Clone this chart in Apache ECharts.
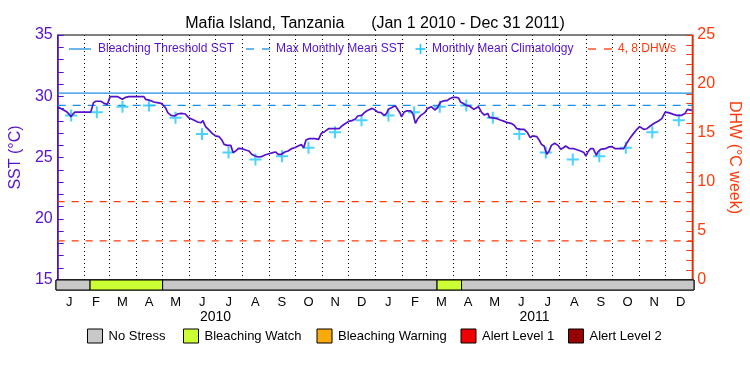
<!DOCTYPE html>
<html><head><meta charset="utf-8">
<script src="https://cdn.jsdelivr.net/npm/echarts@6/dist/echarts.min.js"></script>
<style>html,body{margin:0;padding:0;background:#fff}#c{width:750px;height:375px}</style>
</head><body><div id="c"></div>
<script>
// ---------- data ----------
const titleText = 'Mafia Island, Tanzania      (Jan 1 2010 - Dec 31 2011)';
const monthLetters = ['J','F','M','A','M','J','J','A','S','O','N','D'];
const yearLabels = ['2010','2011'];
const leftTicks = [15, 20, 25, 30, 35];
const rightTicks = [0, 5, 10, 15, 20, 25];

// daily SST trace, read at break points: day offset from 1 Jan 2010 and value (°C)
const sstDay = [0,3.8,6.9,10.7,13.3,15.3,17.2,19.8,38.1,41.2,43.9,49.6,53.4,57.2,60.3,68.6,70.6,74.4,78.2,82.0,99.2,101.1,104.9,110.6,114.4,119.0,121.3,124,126.6,130.4,134.2,138.1,141.9,146.8,150.6,156.4,160.9,164.8,167,170.1,173.9,177.7,181.5,185.7,188.8,
191.4,195.2,199.1,201.7,204.8,207.8,211.6,216.2,220.0,223.1,226.9,230.7,234.5,238.3,242.9,247.5,250.6,253.6,257.4,261.2,265.0,268.9,272.7,276.5,280.3,283.0,285.6,289.5,295.6,300.1,303.2,307.0,311.6,323.8,326.8,331.4,334.5,338.3,342.1,345.1,349.7,352.8,355.4,359.2,361.9,365.0,
368.1,371.9,375.7,378.3,380.3,383.3,386.0,388.6,390.9,393.6,395.5,398.6,401.2,406.2,408.9,411.5,413.8,417.6,422.2,425.3,429.8,433.7,436.7,440.5,445.1,448.1,450.8,454.6,458.4,461.1,463.4,466.1,469.9,473.7,475.6,478.7,481.3,484.0,486.3,487.8,490.9,494.7,496.6,499.2,501.5,505.4,509.2,513.7,517.6,521.4,525.2,528.2,532.8,536.6,540.4,543.5,546.2,
551.2,553.8,556.5,559.5,562.6,565.3,567.9,571.7,575.6,578.6,581.7,584.3,588.1,593.9,601.5,605.3,607.6,609.9,612.9,616.0,619.8,621.3,624.4,630.1,633.9,637.7,641.5,651.1,654.9,658.7,662.5,666.3,669.4,674.0,677.8,681.6,686.2,691.1,694.9,698.8,702.6,708.3,712.1,717.8,721.7,724.3,726.6,729.5];
const sstTemp = [29.15,28.99,28.88,28.71,28.52,28.33,28.52,28.71,28.71,29.48,29.59,29.59,29.42,29.34,29.97,29.97,29.86,29.75,29.91,29.97,29.97,29.75,29.69,29.53,29.48,29.42,29.34,29.07,28.66,28.44,28.39,28.55,28.60,28.55,28.25,28.06,27.90,27.84,28.01,27.52,27.25,26.97,26.76,26.70,26.43,
26.07,25.99,25.99,25.40,25.53,25.75,25.72,25.61,25.53,25.26,25.12,25.04,25.07,25.20,25.31,25.40,25.45,25.26,25.26,25.45,25.53,25.72,25.80,25.94,26.05,25.80,26.43,26.54,26.54,26.48,26.97,27.11,27.35,27.35,27.57,27.79,27.95,28.01,28.12,28.39,28.44,28.66,28.80,28.93,29.01,28.88,
28.71,28.66,28.44,28.60,28.93,29.04,29.15,29.20,29.15,28.66,28.33,28.71,28.80,28.80,28.52,27.79,28.12,28.44,28.66,28.99,29.15,28.88,29.04,29.53,29.64,29.64,29.80,29.91,29.91,29.86,29.53,29.42,29.26,29.20,29.15,28.93,29.04,29.15,29.20,28.66,28.47,28.60,28.28,28.25,28.12,28.17,28.06,27.95,27.84,27.79,27.63,27.35,27.30,27.30,27.03,26.62,26.76,
26.70,26.43,26.07,25.94,25.26,25.53,25.99,26.16,25.99,25.67,25.80,25.94,25.75,25.72,25.53,25.40,25.12,25.45,25.72,25.72,25.18,25.45,25.67,25.72,25.86,25.88,25.72,25.72,26.21,26.62,26.97,27.30,27.52,27.30,27.35,27.57,27.79,27.98,28.17,28.71,28.66,28.52,28.44,28.44,28.60,28.93,29.07,28.85];

// monthly mean climatology (Jan..Dec), °C
const climMonthTemp = [28.42, 28.69, 29.15, 29.25, 28.25, 26.92, 25.40, 24.83, 25.10, 25.80, 27.06, 28.04];
const bleachingThreshold = 30.26;
const maxMonthlyMean = 29.26;
const dhwLevels = [4, 8];

// stress status bar
const statusStart = ['2010-01-01','2010-02-09','2010-05-03','2011-03-13','2011-04-10'];
const statusEnd   = ['2010-02-09','2010-05-03','2011-03-13','2011-04-10','2012-01-01'];
const statusLevel = [0, 1, 0, 1, 0];
const statusNames = ['No Stress','Bleaching Watch','Bleaching Warning','Alert Level 1','Alert Level 2'];

// ---------- styling ----------
const statusColors = ['#c8c8c8','#ccff33','#faaa0a','#f00000','#960000'];
const PURPLE = '#5512cc';
const BLUE = '#1c8fe6';
const CYAN = '#1ec8ff';
const RED = '#ff3a0a';
const DAY = 86400000;
const T0 = Date.UTC(2010,0,1), T1 = Date.UTC(2012,0,1);
const parseD = s => { const p = s.split('-').map(Number); return Date.UTC(p[0], p[1]-1, p[2]); };

const sstData = sstDay.map((d,i) => [T0 + d*DAY, sstTemp[i]]);
const climData = [];
const monthStarts = [];
for (let y = 2010; y <= 2011; y++) {
  for (let m = 0; m < 12; m++) {
    const a = Date.UTC(y, m, 1), b = Date.UTC(y, m+1, 1);
    climData.push([(a+b)/2, climMonthTemp[m]]);
    if (!(y === 2010 && m === 0)) monthStarts.push(a);
  }
}
const monthAxisLabels = yearLabels.flatMap(() => monthLetters);
const statusData = statusStart.map((s,i) => [parseD(s), parseD(statusEnd[i]), statusLevel[i]]);

const FONT = 'Liberation Sans';
const plusPath = 'path://M5,0L7,0L7,5L12,5L12,7L7,7L7,12L5,12L5,7L0,7L0,5L5,5Z';

// legends as graphic elements
const LY = 49;
const txt = (x, y, s, color, size) => ({type:'text', x:x, y:y, silent:true,
  style:{text:s, fill:color, fontSize:size, fontFamily:FONT, verticalAlign:'middle', align:'left'}});
const topLegend = [
  {type:'line', silent:true, shape:{x1:69,y1:LY,x2:91,y2:LY}, style:{stroke:BLUE,lineWidth:1.3}},
  txt(98, LY, 'Bleaching Threshold SST', PURPLE, 12),
  {type:'line', silent:true, shape:{x1:246,y1:LY,x2:254,y2:LY}, style:{stroke:BLUE,lineWidth:1.3}},
  {type:'line', silent:true, shape:{x1:262,y1:LY,x2:270,y2:LY}, style:{stroke:BLUE,lineWidth:1.3}},
  txt(276, LY, 'Max Monthly Mean SST', PURPLE, 12),
  {type:'line', silent:true, shape:{x1:415.5,y1:LY,x2:425.5,y2:LY}, style:{stroke:CYAN,lineWidth:1.6}},
  {type:'line', silent:true, shape:{x1:420.5,y1:LY-5,x2:420.5,y2:LY+5}, style:{stroke:CYAN,lineWidth:1.6}},
  txt(432, LY, 'Monthly Mean Climatology', PURPLE, 12),
  {type:'line', silent:true, shape:{x1:588,y1:LY,x2:596,y2:LY}, style:{stroke:RED,lineWidth:1.3}},
  {type:'line', silent:true, shape:{x1:604,y1:LY,x2:612,y2:LY}, style:{stroke:RED,lineWidth:1.3}},
  txt(618, LY, '4, 8 DHWs', RED, 12)
];
const boxX = [87.5, 183.5, 317, 461, 568.5];
const bottomLegend = [];
statusNames.forEach((n,i) => {
  bottomLegend.push({type:'rect', silent:true, shape:{x:boxX[i], y:329, width:15, height:14}, style:{fill:statusColors[i], stroke:'#000', lineWidth:1}});
  bottomLegend.push(txt(boxX[i]+21, 336.5, n, '#000', 13));
});

// horizontal reference line across the full time span, as a two-point line series
const hLine = (name, v, yIdx, color, type) => ({type:'line', name:name, xAxisIndex:0, yAxisIndex:yIdx,
  data:[[T0, v], [T1, v]], silent:true, showSymbol:false, symbol:'none', z:3,
  lineStyle:{color:color, type:type, width:1.3, opacity:1}, emphasis:{disabled:true}});

const chart = echarts.init(document.getElementById('c'), null, {renderer:'canvas'});
chart.setOption({
  animation:false,
  backgroundColor:'#fff',
  textStyle:{fontFamily:FONT},
  title:{text:titleText, left:'center', top:11, textStyle:{fontSize:16, fontWeight:'normal', color:'#000', fontFamily:FONT}},
  graphic: topLegend.concat(bottomLegend),
  grid:[
    {left:56, width:638, top:35, height:245, show:true, borderColor:'#000', borderWidth:1, backgroundColor:'transparent'},
    {left:56, width:638, top:280, height:10, show:true, borderColor:'#000', borderWidth:1, backgroundColor:'transparent'}
  ],
  xAxis:[
    {type:'time', gridIndex:0, position:'bottom', min:T0, max:T1, axisLine:{show:false}, axisTick:{show:false}, axisLabel:{show:false}, splitLine:{show:false}},
    {type:'time', gridIndex:1, position:'top', min:T0, max:T1, axisLine:{show:false}, axisTick:{show:false}, axisLabel:{show:false}, splitLine:{show:false}},
    {type:'category', gridIndex:1, position:'bottom', data:monthAxisLabels, boundaryGap:true, axisLine:{show:false}, axisTick:{show:false},
      axisLabel:{interval:0, margin:6, fontSize:13, color:'#000', fontFamily:FONT}},
    {type:'category', gridIndex:1, position:'bottom', data:yearLabels, boundaryGap:true, offset:14, axisLine:{show:false}, axisTick:{show:false},
      axisLabel:{interval:0, margin:6, fontSize:14, color:'#000', fontFamily:FONT}}
  ],
  yAxis:[
    {type:'value', gridIndex:0, position:'left', min:leftTicks[0], max:leftTicks[leftTicks.length-1], interval:5,
      name:'SST (°C)', nameLocation:'middle', nameGap:29, nameTextStyle:{color:PURPLE, fontSize:16, fontFamily:FONT},
      axisLine:{show:true, lineStyle:{color:PURPLE, width:1.5}},
      axisTick:{show:true, inside:true, length:6, lineStyle:{color:PURPLE}},
      minorTick:{show:true, splitNumber:5, length:6, lineStyle:{color:PURPLE}},
      axisLabel:{color:PURPLE, fontSize:16, margin:5, fontFamily:FONT},
      splitLine:{show:false}},
    {type:'value', gridIndex:0, position:'right', min:rightTicks[0], max:rightTicks[rightTicks.length-1], interval:5,
      name:'DHW (°C week)', nameLocation:'middle', nameGap:30, nameRotate:-90, nameTextStyle:{color:RED, fontSize:16, fontFamily:FONT},
      axisLine:{show:true, lineStyle:{color:RED, width:1.5}},
      axisTick:{show:true, inside:true, length:6, lineStyle:{color:RED}},
      minorTick:{show:true, splitNumber:5, length:6, lineStyle:{color:RED}},
      axisLabel:{color:RED, fontSize:16, margin:5, fontFamily:FONT},
      splitLine:{show:false}},
    {type:'value', gridIndex:1, min:0, max:1, show:false}
  ],
  series:[
    {type:'line', name:'grid', xAxisIndex:0, yAxisIndex:0, data:[], silent:true,
      markLine:{silent:true, symbol:'none', label:{show:false}, animation:false,
        lineStyle:{color:'#000', type:[1,3], width:1, opacity:1},
        data: monthStarts.map(t => ({xAxis:t}))}},
    hLine('DHW4', dhwLevels[0], 1, RED, [7,7]),
    hLine('DHW8', dhwLevels[1], 1, RED, [7,7]),
    hLine('Bleaching Threshold SST', bleachingThreshold, 0, BLUE, 'solid'),
    hLine('Max Monthly Mean SST', maxMonthlyMean, 0, BLUE, [8,7]),
    {type:'line', name:'SST', xAxisIndex:0, yAxisIndex:0, data:sstData, showSymbol:false, symbol:'none',
      lineStyle:{color:PURPLE, width:1.7}, z:5},
    {type:'scatter', name:'Climatology', xAxisIndex:0, yAxisIndex:0, data:climData,
      symbol:plusPath, symbolSize:12, itemStyle:{color:CYAN}, z:4},
    {type:'custom', name:'Status', xAxisIndex:1, yAxisIndex:2, data:statusData,
      renderItem:(params, api) => {
        const p0 = api.coord([api.value(0), 1]);
        const p1 = api.coord([api.value(1), 0]);
        return {type:'rect', shape:{x:p0[0], y:p0[1], width:p1[0]-p0[0], height:p1[1]-p0[1]},
          style:{fill:statusColors[api.value(2)], stroke:'#000', lineWidth:1}};
      }}
  ]
});
</script></body></html>
